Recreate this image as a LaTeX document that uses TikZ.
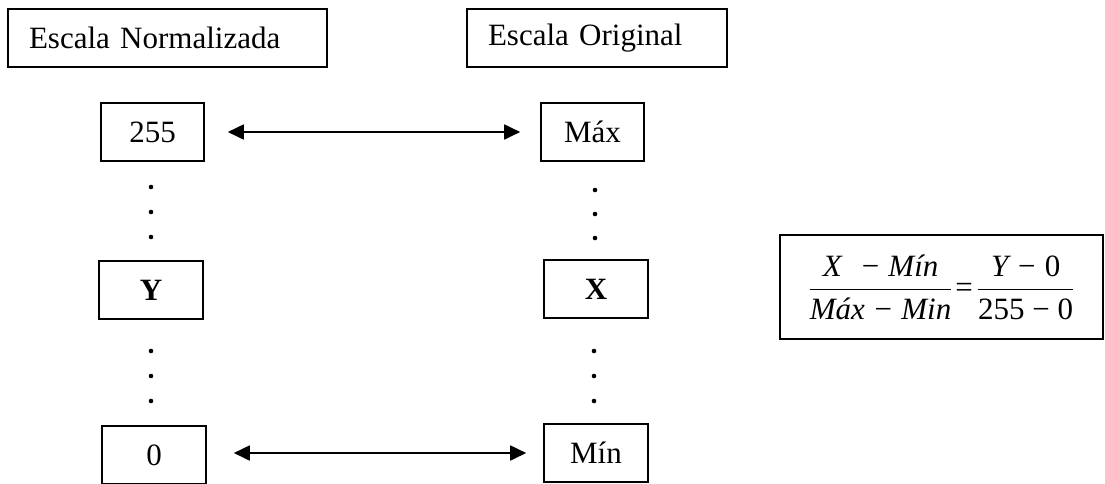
\RequirePackage{fix-cm}
\documentclass[tikz,border=0pt]{standalone}
\usepackage{fontspec}
\setmainfont{Liberation Serif}
\DeclareMathSizes{31}{31}{22}{16}
\usetikzlibrary{arrows.meta}
\begin{document}
\begin{tikzpicture}[x=1pt,y=-1pt,
  every node/.style={font=\fontsize{31}{37}\selectfont},
  valbox/.style={draw,line width=1.6pt,minimum width=103pt,minimum height=58pt,inner sep=0pt},
  titlebox/.style={draw,line width=1.6pt,minimum height=58pt,inner xsep=21pt,inner ysep=0pt,align=left},
  link/.style={line width=1.8pt,{Triangle[length=16pt,width=15pt]}-{Triangle[length=16pt,width=15pt]}},
  dot/.style={fill=black}
]
\useasboundingbox (0,0) rectangle (1105,483);
% title boxes
\node[titlebox,text width=277pt] (norm) at (167.5,38) {Escala Normalizada};
\node[titlebox,text width=218pt] (orig) at (597,38) {Escala Original};
% left column
\node[valbox] (v255) at (152.5,132) {255};
\node[valbox,minimum width=104pt] (vy) at (151,290) {\bfseries Y};
\node[valbox,minimum width=104pt] (v0) at (154,455) {0};
% right column
\node[valbox] (vmax) at (592.5,132) {Máx};
\node[valbox,minimum width=104pt] (vx) at (596,289) {\bfseries X};
\node[valbox,minimum width=104pt] (vmin) at (596,453) {Mín};
% dots
\foreach \yy in {187,212,237,351,376,401} \fill[dot] (151,\yy) circle (2.3pt);
\foreach \yy in {190,214,238} \fill[dot] (595,\yy) circle (2.3pt);
\foreach \yy in {351,376,401} \fill[dot] (594,\yy) circle (2.3pt);
% arrows
\draw[link,shorten <=23pt,shorten >=20pt] (v255.east) -- (vmax.west);
\draw[link,shorten <=27pt,shorten >=17pt] (v0.east |- 0,453) -- (vmin.west);
% formula
\node[draw,line width=1.6pt,minimum width=323pt,minimum height=104pt,inner sep=0pt] (formula) at (941.5,287)
 {$\displaystyle\frac{\mbox{\itshape X\,\, − Mín}}{\mbox{\rule{0pt}{28.5pt}\itshape Máx − Min}}\mbox{\hspace{3pt}=\hspace{4pt}}\frac{\mbox{\itshape Y − \upshape 0}}{\mbox{\rule{0pt}{28.5pt}255 − 0}}$};
\end{tikzpicture}
\end{document}
